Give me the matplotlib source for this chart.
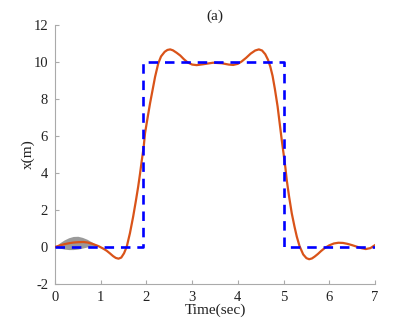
import matplotlib
matplotlib.use("Agg")
from matplotlib import pyplot as plt

# reference (blue dashed step)
ref_t = [0, 1.92, 1.92, 5.02, 5.02, 7.0]
ref_x = [0, 0, 10, 10, 0, 0]

# response (orange)
t = [0, 0.1, 0.2, 0.3, 0.4, 0.5, 0.62, 0.72, 0.82, 0.95, 1.05, 1.13, 1.2, 1.27, 1.33, 1.39,
     1.45, 1.51, 1.57, 1.64, 1.71, 1.77, 1.82, 1.86, 1.9, 1.94, 1.97, 2.02, 2.08, 2.14,
     2.19, 2.26, 2.32, 2.4, 2.46, 2.52, 2.58, 2.66, 2.74, 2.82, 2.9, 3.0, 3.1, 3.25, 3.46,
     3.65, 3.8, 3.9, 4.0, 4.08, 4.18, 4.28, 4.38, 4.46, 4.53, 4.6, 4.66, 4.71, 4.76, 4.81,
     4.87, 4.92, 4.96, 5.0, 5.04, 5.07, 5.12, 5.18, 5.24, 5.29, 5.35, 5.43, 5.5, 5.56,
     5.62, 5.68, 5.75, 5.82, 5.9, 6.0, 6.1, 6.2, 6.3, 6.4, 6.5, 6.6, 6.7, 6.8, 6.9, 7.0]
x = [0, 0.08, 0.15, 0.2, 0.24, 0.26, 0.27, 0.24, 0.17, 0.05, -0.08, -0.2, -0.34, -0.49,
     -0.59, -0.63, -0.57, -0.34, 0.02, 0.75, 1.64, 2.5, 3.26, 3.95, 4.7, 5.4, 6.15, 6.9,
     7.77, 8.55, 9.2, 9.93, 10.3, 10.55, 10.65, 10.68, 10.63, 10.5, 10.35, 10.15, 9.98,
     9.86, 9.83, 9.88, 9.96, 9.93, 9.86, 9.84, 9.9, 10.02, 10.22, 10.45, 10.62, 10.68,
     10.62, 10.42, 10.12, 9.75, 9.25, 8.55, 7.6, 6.6, 5.8, 5.06, 4.3, 3.62, 2.75, 1.82,
     1.1, 0.56, 0.05, -0.4, -0.6, -0.66, -0.62, -0.52, -0.38, -0.22, -0.06, 0.09, 0.19,
     0.23, 0.22, 0.17, 0.1, 0.02, -0.06, -0.11, -0.06, 0.1]

# grey spread at the start
band_t = [0, 0.1, 0.2, 0.3, 0.4, 0.5, 0.6, 0.7, 0.8, 0.9, 0.97]
band_hi = [0, 0.22, 0.38, 0.5, 0.57, 0.58, 0.52, 0.42, 0.28, 0.13, 0.05]
band_lo = [0, -0.06, -0.11, -0.14, -0.14, -0.11, -0.06, 0.0, 0.04, 0.05, 0.05]

plt.rcParams['font.family'] = ['Liberation Serif', 'DejaVu Serif']
plt.rcParams['axes.unicode_minus'] = False

fig = plt.figure(figsize=(4.15, 3.23), dpi=100)
ax = fig.add_axes([0.1325, 0.1207, 0.771, 0.802])

ax.fill_between(band_t, band_lo, band_hi, color='#9a9a9a', lw=0)
ax.plot(t, x, color='#D95319', lw=1.6, zorder=3)
ax.plot(ref_t, ref_x, color='blue', lw=1.9, ls=(0, (3.6, 2.6)), zorder=4)

ax.set_xlim(0, 7)
ax.set_ylim(-2, 12)
ax.set_xticks(range(0, 8))
ax.set_yticks(range(-2, 13, 2))
ax.spines['top'].set_visible(False)
ax.spines['right'].set_visible(False)
for s in ['left', 'bottom']:
    ax.spines[s].set_color('#aaaaaa')
    ax.spines[s].set_linewidth(0.8)
ax.tick_params(direction='in', length=3, color='#aaaaaa', labelsize=10.5, labelcolor='#222222', pad=5)
ax.set_xlabel('Time(sec)', fontsize=11, color='#222222', labelpad=0)
ax.set_ylabel('x(m)', fontsize=11, color='#222222', labelpad=-1)
ax.set_title('(a)', fontsize=11, color='#222222', pad=4)

fig.savefig('out.png', dpi=100)
